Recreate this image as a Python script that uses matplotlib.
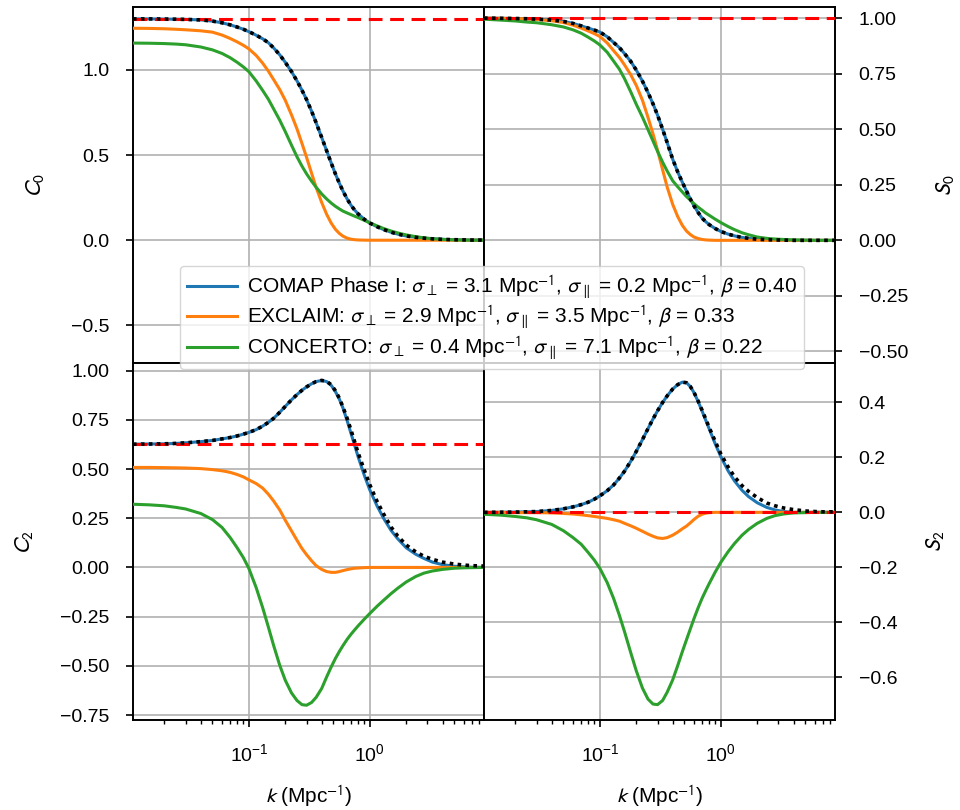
import matplotlib
matplotlib.use("Agg")
import matplotlib.pyplot as plt

plt.rcParams['font.family'] = ['Liberation Sans', 'DejaVu Sans']
plt.rcParams['mathtext.fontset'] = 'stixsans'

# k samples (Mpc^-1)
k = [0.011, 0.015, 0.02, 0.025, 0.03, 0.04, 0.05, 0.06, 0.07, 0.08,
     0.09, 0.1, 0.115, 0.13, 0.145, 0.16, 0.18, 0.2, 0.225, 0.25,
     0.275, 0.3, 0.33, 0.36, 0.4, 0.44, 0.48, 0.52, 0.56, 0.6,
     0.65, 0.7, 0.75, 0.8, 0.9, 1.0, 1.15, 1.3, 1.5, 1.7,
     2.0, 2.4, 2.8, 3.3, 4.0, 5.0, 6.0, 7.0, 8.8]

names = ["COMAP Phase I", "EXCLAIM", "CONCERTO"]
sig_perp = ["3.1", "2.9", "0.4"]
sig_par = ["0.2", "3.5", "7.1"]
betas = ["0.40", "0.33", "0.22"]
colors = ["tab:blue", "tab:orange", "tab:green"]

# monopole C0
c0_comap = [1.300, 1.300, 1.299, 1.298, 1.297, 1.294, 1.287, 1.277, 1.265, 1.252,
            1.239, 1.225, 1.204, 1.183, 1.16, 1.13, 1.089, 1.045, 0.991, 0.936,
            0.881, 0.826, 0.758, 0.69, 0.604, 0.525, 0.453, 0.389, 0.335, 0.289,
            0.242, 0.205, 0.177, 0.155, 0.123, 0.101, 0.079, 0.063, 0.047, 0.036,
            0.025, 0.017, 0.012, 0.008, 0.005, 0.003, 0.002, 0.001, 0.001]
c0_exclaim = [1.245, 1.244, 1.242, 1.239, 1.236, 1.23, 1.222, 1.205, 1.185, 1.165,
              1.145, 1.124, 1.085, 1.04, 0.993, 0.944, 0.885, 0.822, 0.737, 0.654,
              0.568, 0.487, 0.394, 0.31, 0.222, 0.152, 0.1, 0.064, 0.04, 0.024,
              0.012, 0.006, 0.003, 0.0015, 0.0005, 0.0, 0.0, 0.0, 0.0, 0.0,
              0.0, 0.0, 0.0, 0.0, 0.0, 0.0, 0.0, 0.0, 0.0]
c0_concerto = [1.158, 1.157, 1.155, 1.152, 1.148, 1.135, 1.118, 1.097, 1.072, 1.045,
               1.018, 0.99, 0.935, 0.88, 0.828, 0.772, 0.705, 0.638, 0.559, 0.49,
               0.435, 0.39, 0.347, 0.311, 0.272, 0.242, 0.218, 0.199, 0.184, 0.171,
               0.16, 0.15, 0.141, 0.133, 0.117, 0.102, 0.084, 0.069, 0.054, 0.043,
               0.031, 0.021, 0.014, 0.009, 0.005, 0.002, 0.001, 0.0, 0.0]

# monopole S0
s0_comap = [1.0, 0.999, 0.998, 0.997, 0.995, 0.991, 0.985, 0.976, 0.965, 0.955,
            0.946, 0.937, 0.916, 0.89, 0.867, 0.84, 0.805, 0.766, 0.716, 0.665,
            0.614, 0.563, 0.50, 0.44, 0.365, 0.308, 0.262, 0.222, 0.186, 0.155,
            0.125, 0.10, 0.084, 0.071, 0.053, 0.04, 0.028, 0.02, 0.013, 0.009,
            0.005, 0.003, 0.002, 0.001, 0.0, 0.0, 0.0, 0.0, 0.0]
s0_exclaim = [1.0, 0.999, 0.998, 0.996, 0.994, 0.988, 0.98, 0.968, 0.955, 0.942,
              0.93, 0.917, 0.888, 0.853, 0.823, 0.789, 0.745, 0.697, 0.63, 0.553,
              0.479, 0.405, 0.318, 0.24, 0.162, 0.107, 0.068, 0.042, 0.026, 0.015,
              0.008, 0.004, 0.002, 0.001, 0.0, 0.0, 0.0, 0.0, 0.0, 0.0,
              0.0, 0.0, 0.0, 0.0, 0.0, 0.0, 0.0, 0.0, 0.0]
s0_concerto = [0.995, 0.991, 0.987, 0.982, 0.979, 0.97, 0.96, 0.947, 0.932, 0.914,
               0.897, 0.879, 0.846, 0.806, 0.77, 0.727, 0.668, 0.612, 0.554, 0.498,
               0.447, 0.40, 0.352, 0.312, 0.268, 0.241, 0.218, 0.197, 0.181, 0.165,
               0.149, 0.136, 0.123, 0.113, 0.095, 0.08, 0.062, 0.048, 0.034, 0.025,
               0.015, 0.009, 0.006, 0.004, 0.002, 0.001, 0.0, 0.0, 0.0]

# quadrupole C2
c2_comap = [0.626, 0.627, 0.628, 0.63, 0.633, 0.639, 0.645, 0.653, 0.66, 0.668,
            0.677, 0.686, 0.70, 0.718, 0.737, 0.757, 0.788, 0.818, 0.851, 0.878,
            0.90, 0.917, 0.933, 0.944, 0.95, 0.944, 0.925, 0.893, 0.855, 0.81,
            0.745, 0.68, 0.62, 0.563, 0.469, 0.394, 0.312, 0.25, 0.188, 0.146,
            0.1, 0.067, 0.046, 0.027, 0.014, 0.006, 0.003, 0.001, 0.0]
c2_model = [0.626, 0.627, 0.628, 0.63, 0.633, 0.639, 0.645, 0.653, 0.66, 0.668,
            0.677, 0.686, 0.70, 0.718, 0.737, 0.757, 0.788, 0.818, 0.851, 0.878,
            0.90, 0.917, 0.933, 0.944, 0.95, 0.945, 0.928, 0.897, 0.86, 0.815,
            0.757, 0.697, 0.638, 0.583, 0.495, 0.42, 0.335, 0.272, 0.205, 0.16,
            0.114, 0.079, 0.057, 0.041, 0.027, 0.017, 0.012, 0.009, 0.007]
c2_exclaim = [0.508, 0.508, 0.507, 0.506, 0.505, 0.502, 0.497, 0.491, 0.483, 0.472,
              0.46, 0.445, 0.426, 0.403, 0.372, 0.338, 0.292, 0.24, 0.186, 0.138,
              0.096, 0.065, 0.034, 0.009, -0.01, -0.021, -0.025, -0.025, -0.021, -0.016,
              -0.011, -0.007, -0.004, -0.003, -0.001, 0.0, 0.0, 0.0, 0.0, 0.0,
              0.0, 0.0, 0.0, 0.0, 0.0, 0.0, 0.0, 0.0, 0.0]
c2_concerto = [0.321, 0.318, 0.313, 0.305, 0.297, 0.274, 0.243, 0.203, 0.152, 0.1,
               0.05, -0.005, -0.103, -0.204, -0.303, -0.395, -0.497, -0.573, -0.637, -0.676,
               -0.697, -0.70, -0.686, -0.66, -0.615, -0.556, -0.505, -0.462, -0.427, -0.397,
               -0.365, -0.339, -0.317, -0.297, -0.263, -0.234, -0.197, -0.167, -0.133, -0.106,
               -0.074, -0.046, -0.029, -0.018, -0.01, -0.004, -0.002, -0.001, 0.0]

# quadrupole S2
s2_comap = [0.0, 0.0005, 0.001, 0.002, 0.003, 0.007, 0.013, 0.02, 0.028, 0.037,
            0.048, 0.06, 0.079, 0.10, 0.125, 0.15, 0.186, 0.222, 0.265, 0.305,
            0.34, 0.37, 0.40, 0.424, 0.449, 0.465, 0.474, 0.472, 0.458, 0.436,
            0.403, 0.369, 0.336, 0.305, 0.249, 0.203, 0.151, 0.114, 0.08, 0.057,
            0.035, 0.018, 0.009, 0.003, 0.0, 0.0, 0.0, 0.0, 0.0]
s2_model = [0.0, 0.0005, 0.001, 0.002, 0.003, 0.007, 0.013, 0.02, 0.028, 0.037,
            0.048, 0.06, 0.079, 0.10, 0.125, 0.15, 0.186, 0.222, 0.265, 0.305,
            0.34, 0.37, 0.40, 0.424, 0.449, 0.465, 0.474, 0.472, 0.458, 0.437,
            0.405, 0.372, 0.34, 0.31, 0.258, 0.213, 0.165, 0.129, 0.097, 0.076,
            0.054, 0.034, 0.024, 0.016, 0.01, 0.005, 0.003, 0.002, 0.002]
s2_exclaim = [0.0, 0.0, -0.001, -0.001, -0.001, -0.002, -0.004, -0.006, -0.009, -0.012,
              -0.015, -0.018, -0.022, -0.027, -0.032, -0.04, -0.049, -0.058, -0.069, -0.079,
              -0.087, -0.093, -0.095, -0.092, -0.083, -0.072, -0.06, -0.05, -0.038, -0.026,
              -0.014, -0.007, -0.003, -0.001, 0.0, 0.0, 0.0, 0.0, 0.0, 0.0,
              0.0, 0.0, 0.0, 0.0, 0.0, 0.0, 0.0, 0.0, 0.0]
s2_concerto = [-0.007, -0.01, -0.015, -0.02, -0.027, -0.044, -0.067, -0.092, -0.116, -0.146,
               -0.174, -0.204, -0.256, -0.314, -0.375, -0.435, -0.511, -0.577, -0.64, -0.68,
               -0.698, -0.70, -0.685, -0.655, -0.61, -0.558, -0.508, -0.464, -0.424, -0.387,
               -0.347, -0.313, -0.285, -0.26, -0.217, -0.182, -0.143, -0.113, -0.083, -0.062,
               -0.04, -0.022, -0.012, -0.006, -0.002, -0.001, 0.0, 0.0, 0.0]

panels = [
    ("$C_0$", [c0_comap, c0_exclaim, c0_concerto], c0_comap, 1.3, (-0.724, 1.37),
     [-0.5, 0.0, 0.5, 1.0]),
    ("$S_0$", [s0_comap, s0_exclaim, s0_concerto], s0_comap, 1.0, (-0.554, 1.05),
     [-0.5, -0.25, 0.0, 0.25, 0.5, 0.75, 1.0]),
    ("$C_2$", [c2_comap, c2_exclaim, c2_concerto], c2_model, 0.625, (-0.775, 1.036),
     [-0.75, -0.5, -0.25, 0.0, 0.25, 0.5, 0.75, 1.0]),
    ("$S_2$", [s2_comap, s2_exclaim, s2_concerto], s2_model, 0.0, (-0.756, 0.542),
     [-0.6, -0.4, -0.2, 0.0, 0.2, 0.4]),
]

fig, axes = plt.subplots(2, 2, figsize=(9.6, 8.1), dpi=100, sharex=True)
fig.subplots_adjust(left=0.1385, right=0.8698, top=0.9914, bottom=0.1111, hspace=0, wspace=0)

for i, ax in enumerate(axes.flat):
    label, series, model, ref, ylim, yticks = panels[i]
    handles = []
    for s, c in zip(series, colors):
        h, = ax.plot(k, s, color=c, lw=2.2, zorder=3)
        handles.append(h)
    ax.axhline(ref, color="red", ls="--", lw=2.2, dashes=(4.5, 2.5), zorder=4)
    ax.plot(k, model, color="black", ls=":", lw=2.6, dashes=(1, 1.2), zorder=5)
    ax.set_xscale("log")
    ax.set_xlim(0.011, 8.8)
    ax.set_ylim(*ylim)
    ax.set_yticks(yticks)
    ax.grid(True, color="#b0b0b0", lw=1.2)
    ax.tick_params(labelsize=14, width=1.2, length=5, pad=12)
    ax.tick_params(which="minor", width=1.0, length=3)
    for sp in ax.spines.values():
        sp.set_linewidth(1.4)
    if i % 2 == 1:
        ax.yaxis.tick_right()
        ax.yaxis.set_label_position("right")
        ax.set_ylabel(label, fontsize=16, labelpad=19)
    else:
        ax.set_ylabel(label, fontsize=16, labelpad=18)
    if i >= 2:
        ax.set_xlabel("$k$ (Mpc$^{-1}$)", fontsize=15, labelpad=13)
    else:
        ax.tick_params(axis="x", which="both", bottom=False, labelbottom=False)

labels = [f"{n}: $\\sigma_\\perp$ = {a} Mpc$^{{-1}}$, $\\sigma_\\parallel$ = {b} Mpc$^{{-1}}$, $\\beta$ = {c}"
          for n, a, b, c in zip(names, sig_perp, sig_par, betas)]
fig.legend(handles, labels, loc="upper center", bbox_to_anchor=(0.5125, 0.672),
           borderaxespad=0, fontsize=15, handlelength=2.4, handletextpad=0.5,
           labelspacing=0.15, borderpad=0.35)

fig.savefig("out.png", dpi=100)
